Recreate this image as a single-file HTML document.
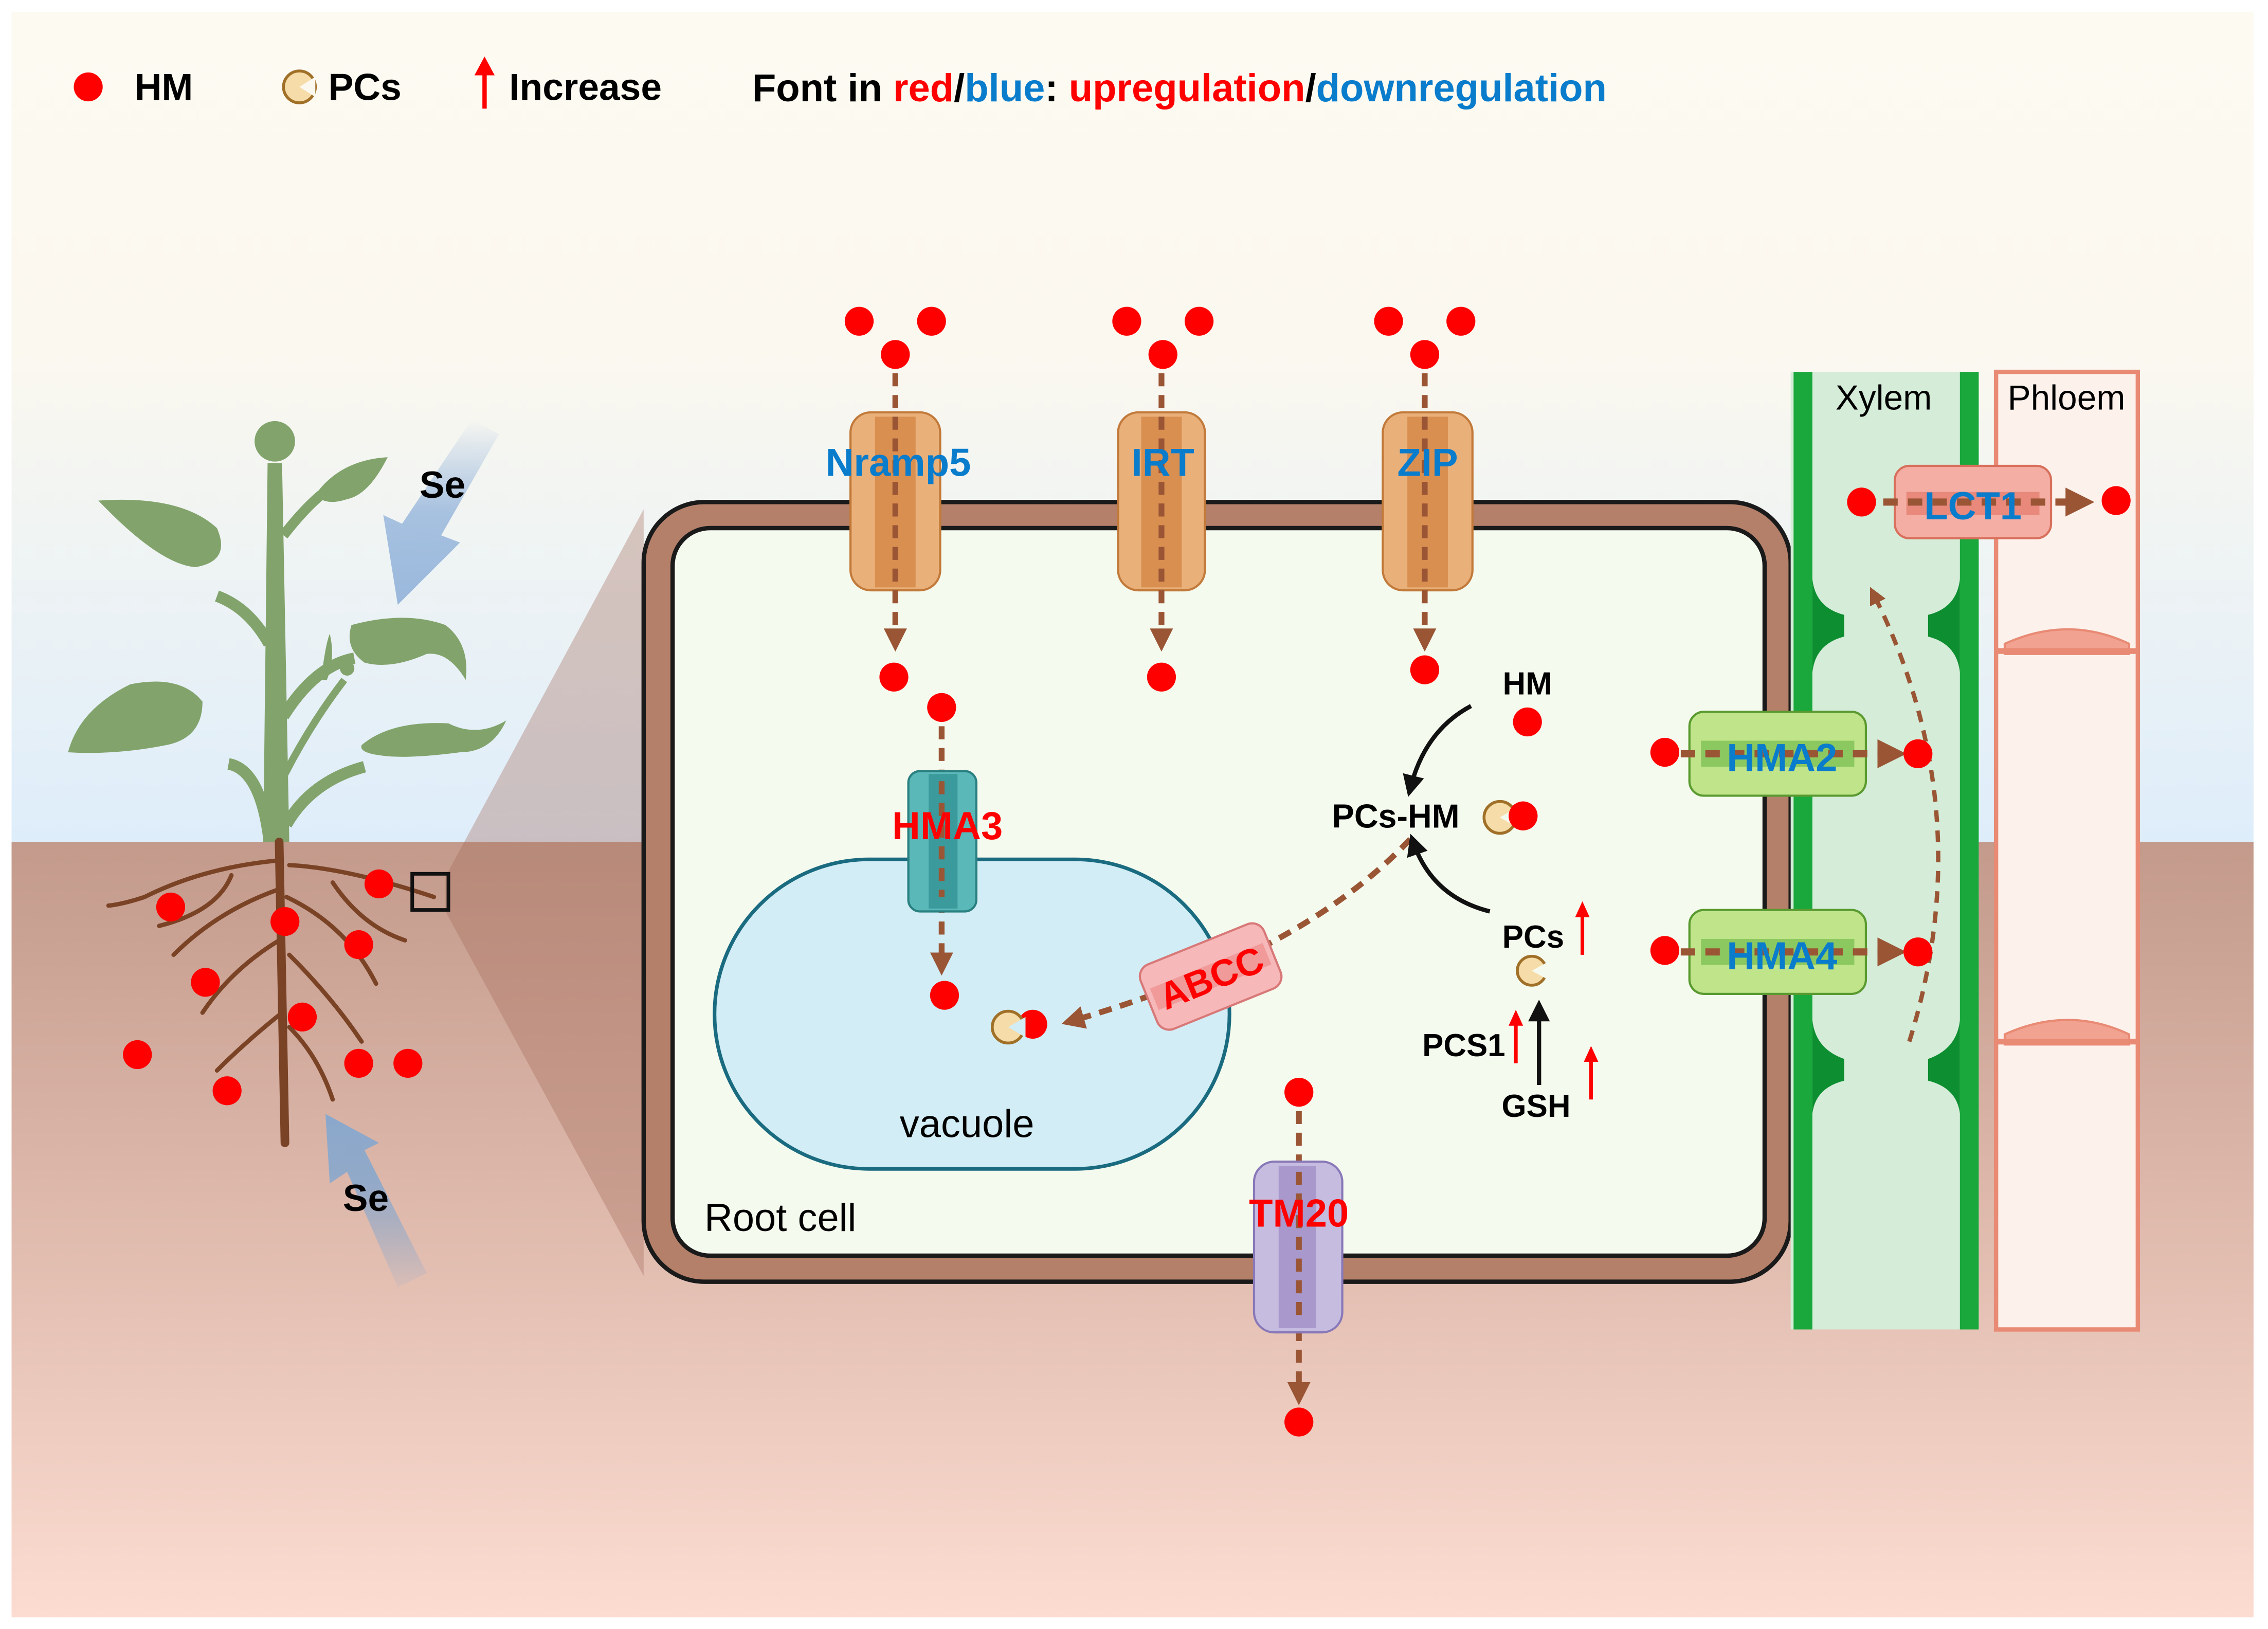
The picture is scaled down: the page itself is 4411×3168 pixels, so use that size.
<!DOCTYPE html>
<html><head><meta charset="utf-8"><style>
html,body{margin:0;padding:0;background:#fff;}
svg{display:block;}
text{font-family:"Liberation Sans",Arial,sans-serif;}
</style></head><body>
<svg width="4411" height="3168" viewBox="0 0 1568 1126" xmlns="http://www.w3.org/2000/svg">
<defs>
<linearGradient id="sky" x1="0" y1="0" x2="0" y2="1">
<stop offset="0" stop-color="#fdfaf2"/><stop offset="0.4" stop-color="#fbf8ef"/><stop offset="1" stop-color="#deedfa"/></linearGradient>
<linearGradient id="soil" x1="0" y1="0" x2="0" y2="1">
<stop offset="0" stop-color="#c39a8b"/><stop offset="1" stop-color="#fcdcd1"/></linearGradient>
<linearGradient id="arr1" x1="0" y1="0" x2="0" y2="1"><stop offset="0" stop-color="#9ab8dc" stop-opacity="0"/><stop offset="0.5" stop-color="#9ab8dc" stop-opacity="0.85"/><stop offset="1" stop-color="#9ab8dc"/></linearGradient>
<linearGradient id="arr2" x1="0" y1="1" x2="0" y2="0"><stop offset="0" stop-color="#8aa8cc" stop-opacity="0.1"/><stop offset="0.6" stop-color="#8aa8cc" stop-opacity="0.9"/><stop offset="1" stop-color="#8aa8cc"/></linearGradient>
<marker id="ah" viewBox="0 0 10 10" refX="6" refY="5" markerWidth="4" markerHeight="4" orient="auto"><path d="M0,0 L10,5 L0,10z" fill="#9a5535"/></marker>
<marker id="bh" viewBox="0 0 10 10" refX="6" refY="5" markerWidth="5" markerHeight="5" orient="auto"><path d="M0,0 L10,5 L0,10z" fill="#111"/></marker>
</defs>
<rect x="0" y="0" width="1568" height="1126" fill="#fff"/>
<rect x="8" y="8" width="1550" height="575" fill="url(#sky)"/>
<rect x="8" y="582" width="1550" height="536" fill="url(#soil)"/>

<!-- legend -->
<circle cx="61" cy="60" r="10" fill="#f00"/>
<text x="93" y="69" font-size="26" font-weight="bold">HM</text>
<circle cx="207" cy="60" r="11" fill="#f6dca8" stroke="#a07028" stroke-width="2"/>
<path d="M207,60 L218,53 L218,67z" fill="#fbf8ef"/>
<text x="227" y="69" font-size="26" font-weight="bold">PCs</text>
<line x1="335" y1="75" x2="335" y2="50" stroke="#f00" stroke-width="3"/><path d="M328,52 L335,39 L342,52z" fill="#f00"/>
<text x="352" y="69" font-size="26" font-weight="bold">Increase</text>
<text x="520" y="70" font-size="27" font-weight="bold">Font in <tspan fill="#f00">red</tspan>/<tspan fill="#0a7ccc">blue</tspan>:  <tspan fill="#f00">upregulation</tspan>/<tspan fill="#0a7ccc">downregulation</tspan></text>

<!-- zoom wedge -->
<polygon points="308,606 445,352 445,882 308,630" fill="#a46a58" fill-opacity="0.35"/>

<!-- plant -->
<g fill="#82a46c">
<path d="M182,582 L185,320 L195,320 L200,582z"/>
<circle cx="190" cy="305" r="14"/>
<path d="M196,370 Q210,352 222,342" stroke="#82a46c" stroke-width="7" fill="none"/>
<path d="M218,342 Q235,318 268,316 Q255,342 240,345 Q225,350 218,342z"/>
<path d="M186,445 Q172,420 150,412" stroke="#82a46c" stroke-width="8" fill="none"/>
<path d="M68,346 Q125,342 150,365 Q160,388 135,392 Q110,390 68,346z"/>
<path d="M196,495 Q218,460 245,455" stroke="#82a46c" stroke-width="8" fill="none"/>
<path d="M243,432 Q280,422 308,432 Q325,445 322,470 Q310,450 295,452 Q270,463 252,458 Q238,448 243,432z"/>
<path d="M186,580 Q180,532 158,528" stroke="#82a46c" stroke-width="8" fill="none"/>
<path d="M47,520 Q55,490 90,473 Q125,466 140,485 Q140,510 115,515 Q80,522 47,520z"/>
<path d="M198,570 Q215,540 252,530" stroke="#82a46c" stroke-width="8" fill="none"/>
<path d="M250,515 Q270,498 310,500 Q330,510 350,498 Q340,520 318,520 Q280,525 262,522 Q248,520 250,515z"/>
<path d="M197,535 Q215,500 238,470" stroke="#82a46c" stroke-width="5" fill="none"/>
<path d="M222,470 Q225,445 228,438 Q232,455 226,470z"/>
<circle cx="240" cy="462" r="5"/>
</g>
<!-- roots -->
<g stroke="#7a4326" fill="none" stroke-linecap="round">
<path d="M193,582 L197,790" stroke-width="6"/>
<g stroke-width="3">
<path d="M190,595 Q140,600 100,620 Q85,625 75,626"/><path d="M200,598 Q240,600 300,620"/>
<path d="M192,615 Q150,630 120,660"/><path d="M198,620 Q240,640 260,680"/>
<path d="M193,650 Q160,670 140,700"/><path d="M200,660 Q230,690 250,720"/>
<path d="M195,700 Q170,720 150,740"/><path d="M200,710 Q220,730 230,760"/>
<path d="M160,605 Q150,630 110,640"/><path d="M230,610 Q250,640 280,650"/>
</g></g>
<g fill="#f00">
<circle cx="118" cy="627" r="10"/><circle cx="262" cy="611" r="10"/><circle cx="197" cy="637" r="10"/><circle cx="248" cy="653" r="10"/><circle cx="142" cy="679" r="10"/><circle cx="209" cy="703" r="10"/><circle cx="95" cy="729" r="10"/><circle cx="157" cy="754" r="10"/><circle cx="248" cy="735" r="10"/><circle cx="282" cy="735" r="10"/>
</g>
<rect x="285" y="604" width="25" height="25" fill="none" stroke="#111" stroke-width="2.5"/>
<path d="M326,290 L345,300 L305,370 L318,375 L275,418 L265,356 L278,362 Z" fill="url(#arr1)"/>
<text x="290" y="344" font-size="26" font-weight="bold">Se</text>
<path d="M295,880 L275,890 L240,810 L228,818 L225,770 L262,790 L252,795 Z" fill="url(#arr2)"/>
<text x="237" y="837" font-size="26" font-weight="bold">Se</text>

<!-- cell -->
<rect x="445" y="347" width="793" height="539" rx="42" fill="#b5806a" stroke="#1a1a1a" stroke-width="3"/>
<rect x="465" y="365" width="755" height="503" rx="26" fill="#f5faee" stroke="#1a1a1a" stroke-width="3"/>
<text x="487" y="851" font-size="27">Root cell</text>
<rect x="494" y="594" width="356" height="214" rx="107" fill="#d2edf5" stroke="#1a6b80" stroke-width="2.5"/>
<text x="622" y="786" font-size="27">vacuole</text>

<!-- xylem/phloem -->
<rect x="1238" y="257" width="130" height="662" fill="#d4ecd8"/>
<rect x="1240" y="257" width="13" height="662" fill="#1aa83c"/>
<rect x="1355" y="257" width="13" height="662" fill="#1aa83c"/>
<g fill="#0d8e30">
<path d="M1253,400 Q1255,420 1275,425 L1275,440 Q1255,445 1253,465z"/>
<path d="M1355,400 Q1353,420 1333,425 L1333,440 Q1353,445 1355,465z"/>
<path d="M1253,705 Q1255,725 1275,732 L1275,747 Q1255,752 1253,770z"/>
<path d="M1355,705 Q1353,725 1333,732 L1333,747 Q1353,752 1355,770z"/>
</g>
<text x="1269" y="283" font-size="24">Xylem</text>
<rect x="1380" y="257" width="98" height="662" fill="#fdf1ec" stroke="#e88a74" stroke-width="3"/>
<g fill="#f2a290" stroke="#e88a74" stroke-width="1.5">
<path d="M1386,445 Q1430,425 1472,445 L1472,452 L1386,452z"/>
<path d="M1386,715 Q1430,695 1472,715 L1472,722 L1386,722z"/>
</g>
<line x1="1380" y1="450" x2="1478" y2="450" stroke="#e88a74" stroke-width="4"/>
<line x1="1380" y1="720" x2="1478" y2="720" stroke="#e88a74" stroke-width="4"/>
<text x="1388" y="283" font-size="24">Phloem</text>

<!-- LCT1 -->
<rect x="1310" y="322" width="108" height="50" rx="10" fill="#f4aea4" stroke="#d8705c" stroke-width="1.5"/>
<rect x="1318" y="340" width="92" height="16" fill="#e8897c"/>
<line x1="1302" y1="347" x2="1440" y2="347" stroke="#9a5535" stroke-width="5" stroke-dasharray="10,7" marker-end="url(#ah)"/>
<circle cx="1287" cy="347" r="10" fill="#f00"/><circle cx="1463" cy="346" r="10" fill="#f00"/>
<text x="1364" y="359" font-size="27" font-weight="bold" fill="#0a7ccc" text-anchor="middle">LCT1</text>
<path d="M1320,720 Q1370,560 1295,410" fill="none" stroke="#9a5535" stroke-width="3" stroke-dasharray="8,6" marker-end="url(#ah)"/>

<!-- HMA2/HMA4 -->
<g>
<rect x="1168" y="492" width="122" height="58" rx="10" fill="#bfe48a" stroke="#5a9a30" stroke-width="1.5"/>
<rect x="1176" y="512" width="106" height="18" fill="#8cc860"/>
<line x1="1162" y1="521" x2="1310" y2="521" stroke="#9a5535" stroke-width="5" stroke-dasharray="10,7" marker-end="url(#ah)"/>
<circle cx="1151" cy="520" r="10" fill="#f00"/><circle cx="1326" cy="521" r="10" fill="#f00"/>
<text x="1232" y="533" font-size="27" font-weight="bold" fill="#0a7ccc" text-anchor="middle">HMA2</text>
<rect x="1168" y="629" width="122" height="58" rx="10" fill="#bfe48a" stroke="#5a9a30" stroke-width="1.5"/>
<rect x="1176" y="649" width="106" height="18" fill="#8cc860"/>
<line x1="1162" y1="658" x2="1310" y2="658" stroke="#9a5535" stroke-width="5" stroke-dasharray="10,7" marker-end="url(#ah)"/>
<circle cx="1151" cy="657" r="10" fill="#f00"/><circle cx="1326" cy="658" r="10" fill="#f00"/>
<text x="1232" y="670" font-size="27" font-weight="bold" fill="#0a7ccc" text-anchor="middle">HMA4</text>
</g>

<!-- uptake channels -->
<g>
<rect x="588" y="285" width="62" height="123" rx="14" fill="#e9b07a" stroke="#c27a3a" stroke-width="1.5"/>
<rect x="605" y="288" width="28" height="118" fill="#d98f50"/>
<rect x="773" y="285" width="60" height="123" rx="14" fill="#e9b07a" stroke="#c27a3a" stroke-width="1.5"/>
<rect x="789" y="288" width="28" height="118" fill="#d98f50"/>
<rect x="956" y="285" width="62" height="123" rx="14" fill="#e9b07a" stroke="#c27a3a" stroke-width="1.5"/>
<rect x="973" y="288" width="28" height="118" fill="#d98f50"/>
</g>
<g stroke="#9a5535" stroke-width="4" stroke-dasharray="9,6" fill="none" marker-end="url(#ah)">
<line x1="619" y1="258" x2="619" y2="444"/><line x1="803" y1="258" x2="803" y2="444"/><line x1="985" y1="258" x2="985" y2="444"/>
<line x1="651" y1="502" x2="651" y2="668"/><line x1="898" y1="768" x2="898" y2="965"/>
</g>
<g fill="#f00">
<circle cx="594" cy="222" r="10"/><circle cx="644" cy="222" r="10"/><circle cx="619" cy="245" r="10"/>
<circle cx="779" cy="222" r="10"/><circle cx="829" cy="222" r="10"/><circle cx="804" cy="245" r="10"/>
<circle cx="960" cy="222" r="10"/><circle cx="1010" cy="222" r="10"/><circle cx="985" cy="245" r="10"/>
<circle cx="618" cy="468" r="10"/><circle cx="803" cy="468" r="10"/><circle cx="985" cy="463" r="10"/>
<circle cx="651" cy="489" r="10"/><circle cx="653" cy="688" r="10"/><circle cx="714" cy="708" r="10"/>
<circle cx="898" cy="755" r="10"/><circle cx="898" cy="983" r="10"/><circle cx="1056" cy="499" r="10"/><circle cx="1053" cy="564" r="10"/>
</g>
<text x="621" y="329" font-size="27" font-weight="bold" fill="#0a7ccc" text-anchor="middle">Nramp5</text>
<text x="804" y="329" font-size="27" font-weight="bold" fill="#0a7ccc" text-anchor="middle">IRT</text>
<text x="987" y="329" font-size="27" font-weight="bold" fill="#0a7ccc" text-anchor="middle">ZIP</text>

<!-- HMA3 -->
<rect x="628" y="533" width="47" height="97" rx="8" fill="#5ab8b8" stroke="#2a8080" stroke-width="1.5"/>
<rect x="642" y="535" width="20" height="93" fill="#3a9a9c"/>
<line x1="651" y1="540" x2="651" y2="620" stroke="#9a5535" stroke-width="4" stroke-dasharray="9,6"/>
<text x="655" y="580" font-size="27" font-weight="bold" fill="#f00" text-anchor="middle">HMA3</text>

<!-- TM20 -->
<rect x="867" y="803" width="61" height="118" rx="14" fill="#c6bce0" stroke="#8878b8" stroke-width="1.5"/>
<rect x="884" y="806" width="26" height="112" fill="#a898cc"/>
<line x1="898" y1="810" x2="898" y2="915" stroke="#9a5535" stroke-width="4" stroke-dasharray="9,6"/>
<text x="898" y="848" font-size="27" font-weight="bold" fill="#f00" text-anchor="middle">TM20</text>

<!-- ABCC -->
<path d="M975,580 Q900,660 740,706" fill="none" stroke="#9a5535" stroke-width="4" stroke-dasharray="9,6" marker-end="url(#ah)"/>
<g transform="translate(837,675) rotate(-22)">
<rect x="-46" y="-24" width="92" height="48" rx="9" fill="#f6b8b8" stroke="#d87878" stroke-width="1.5"/>
<rect x="-42" y="-8" width="84" height="16" fill="#f09a9a"/>
<text x="0" y="10" font-size="26" font-weight="bold" fill="#f00" text-anchor="middle">ABCC</text>
</g>
<circle cx="697" cy="710" r="11" fill="#f6dca8" stroke="#a07028" stroke-width="2"/>
<path d="M697,710 L709,703 L709,717z" fill="#d2edf5"/>

<!-- PCs pathway -->
<text x="1056" y="480" font-size="22" font-weight="bold" text-anchor="middle">HM</text>
<text x="965" y="572" font-size="23" font-weight="bold" text-anchor="middle">PCs-HM</text>
<circle cx="1037" cy="565" r="11" fill="#f6dca8" stroke="#a07028" stroke-width="2"/>
<path d="M1037,565 L1049,558 L1049,572z" fill="#f5faee"/>
<circle cx="1053" cy="564" r="10" fill="#f00"/>
<path d="M1017,488 Q985,505 975,545" fill="none" stroke="#111" stroke-width="3" marker-end="url(#bh)"/>
<path d="M1030,630 Q990,620 977,582" fill="none" stroke="#111" stroke-width="3" marker-end="url(#bh)"/>
<text x="1060" y="655" font-size="22" font-weight="bold" text-anchor="middle">PCs</text>
<circle cx="1059" cy="671" r="10" fill="#f6dca8" stroke="#a07028" stroke-width="2"/>
<path d="M1059,671 L1070,665 L1070,677z" fill="#f5faee"/>
<line x1="1064" y1="750" x2="1064" y2="697" stroke="#111" stroke-width="3" marker-end="url(#bh)"/>
<text x="1062" y="772" font-size="22" font-weight="bold" text-anchor="middle">GSH</text>
<text x="1012" y="730" font-size="22" font-weight="bold" text-anchor="middle">PCS1</text>
<g stroke="#f00" stroke-width="2.5" fill="#f00">
<line x1="1094" y1="660" x2="1094" y2="632"/><path d="M1089,634 L1094,623 L1099,634z" stroke="none"/>
<line x1="1048" y1="735" x2="1048" y2="707"/><path d="M1043,709 L1048,698 L1053,709z" stroke="none"/>
<line x1="1100" y1="760" x2="1100" y2="732"/><path d="M1095,734 L1100,723 L1105,734z" stroke="none"/>
</g>
</svg>
</body></html>
